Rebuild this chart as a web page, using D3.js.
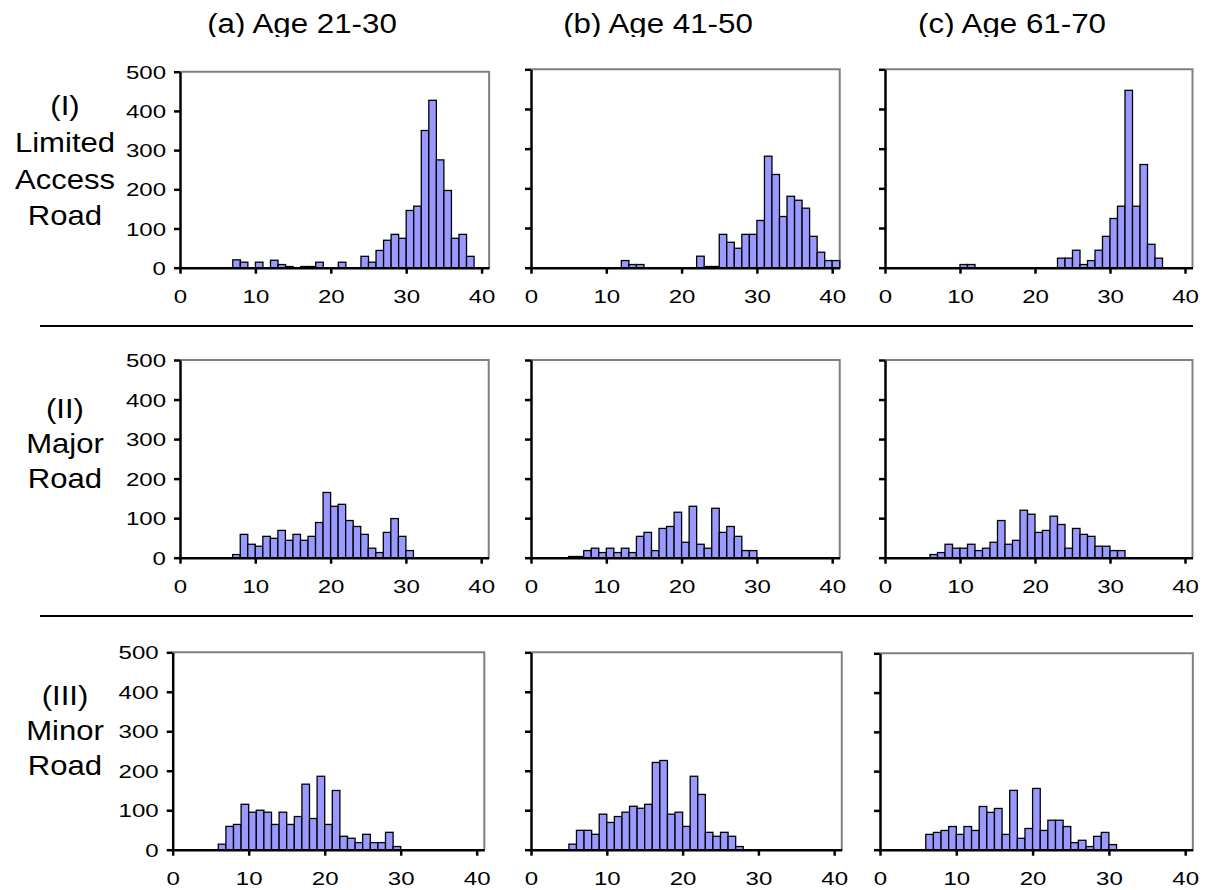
<!DOCTYPE html>
<html><head><meta charset="utf-8">
<script src="https://cdn.jsdelivr.net/npm/d3@7"></script>
<style>
body{margin:0;background:#fff}
svg{display:block}
text{font-family:"Liberation Sans",Arial,sans-serif;fill:#000}
</style>
</head><body>
<svg id="chart" width="1209" height="890"></svg>
<script>
// ---------- data ----------
const ageGroups = ["(a) Age 21-30", "(b) Age 41-50", "(c) Age 61-70"];
const roadTypes = [["(I)", "Limited", "Access", "Road"], ["(II)", "Major", "Road"], ["(III)", "Minor", "Road"]];
const xTicks = [0, 10, 20, 30, 40];
const yTicks = [0, 100, 200, 300, 400, 500];

// counts per 1-unit speed bin; *_start = first bin
const limited_21_30_start = 7;
const limited_21_30 = [20, 14, 0, 14, 0, 19, 8, 3, 0, 3, 3, 14, 0, 0, 14, 0, 0, 29, 14, 44, 70, 85, 75, 146, 157, 350, 427, 275, 197, 75, 85, 29];
const limited_41_50_start = 12;
const limited_41_50 = [18, 8, 8, 0, 0, 0, 0, 0, 0, 0, 29, 3, 3, 84, 64, 49, 84, 84, 119, 281, 235, 129, 180, 170, 150, 79, 39, 18, 18];
const limited_61_70_start = 10;
const limited_61_70 = [8, 8, 0, 0, 0, 0, 0, 0, 0, 0, 0, 0, 0, 24, 24, 44, 8, 18, 44, 79, 124, 155, 447, 155, 260, 59, 24];

const major_21_30_start = 7;
const major_21_30 = [8, 59, 34, 29, 54, 49, 69, 44, 59, 44, 54, 89, 165, 130, 135, 94, 79, 59, 24, 13, 64, 99, 54, 18];
const major_41_50_start = 5;
const major_41_50 = [3, 3, 18, 24, 13, 24, 13, 24, 13, 54, 64, 18, 74, 79, 115, 39, 130, 34, 24, 125, 64, 79, 54, 18, 18];
const major_61_70_start = 6;
const major_61_70 = [8, 13, 34, 24, 24, 34, 18, 24, 39, 94, 34, 44, 120, 110, 64, 69, 105, 84, 24, 74, 59, 54, 29, 29, 18, 18];

const minor_21_30_start = 6;
const minor_21_30 = [14, 59, 64, 115, 95, 100, 95, 64, 95, 64, 84, 166, 79, 186, 64, 150, 34, 29, 18, 39, 18, 18, 44, 8];
const minor_41_50_start = 5;
const minor_41_50 = [14, 49, 49, 39, 90, 69, 84, 95, 110, 105, 115, 221, 226, 90, 95, 59, 186, 140, 44, 34, 44, 34, 8];
const minor_61_70_start = 6;
const minor_61_70 = [39, 44, 49, 59, 39, 59, 49, 110, 95, 105, 39, 151, 29, 54, 156, 49, 75, 75, 59, 18, 24, 8, 34, 44, 13];

const series = [
  [limited_21_30_start, limited_21_30], [limited_41_50_start, limited_41_50], [limited_61_70_start, limited_61_70],
  [major_21_30_start, major_21_30], [major_41_50_start, major_41_50], [major_61_70_start, major_61_70],
  [minor_21_30_start, minor_21_30], [minor_41_50_start, minor_41_50], [minor_61_70_start, minor_61_70]
];

// ---------- layout ----------
const layout = [
  {x0: 180,   unit: 7.54, top: 71.7,  bottom: 267.7},
  {x0: 531,   unit: 7.53, top: 69.3,  bottom: 267.7},
  {x0: 885,   unit: 7.50, top: 69.3,  bottom: 267.7},
  {x0: 180,   unit: 7.53, top: 360,   bottom: 557.7},
  {x0: 531,   unit: 7.53, top: 360,   bottom: 557.7},
  {x0: 885,   unit: 7.50, top: 360,   bottom: 557.7},
  {x0: 172.7, unit: 7.60, top: 652.3, bottom: 849.7},
  {x0: 531,   unit: 7.58, top: 652.3, bottom: 849.7},
  {x0: 880,   unit: 7.63, top: 653.3, bottom: 849.7}
];
const titleX = [302, 658, 1012];
const rowLabelBaselines = [[115, 151.7, 189, 225], [418, 453, 488], [705, 740, 775]];
const separatorsY = [326, 616];
const X_MAX = 41;
const TICK_SX = 1.3, TITLE_SX = 1.16, ROW_SX = 1.13;

const svg = d3.select("#chart");

// titles (clipped at top edge region like the source)
svg.append("defs").append("clipPath").attr("id", "titleClip")
  .append("rect").attr("x", 0).attr("y", 0).attr("width", 1209).attr("height", 37);
const tg = svg.append("g").attr("clip-path", "url(#titleClip)");
ageGroups.forEach((t, i) => {
  tg.append("text").attr("transform", `translate(${titleX[i]},33.3) scale(${TITLE_SX},1)`)
    .attr("text-anchor", "middle").style("font-size", "27px").text(t);
});

// row labels
roadTypes.forEach((lines, r) => {
  lines.forEach((ln, k) => {
    svg.append("text").attr("transform", `translate(65,${rowLabelBaselines[r][k]}) scale(${ROW_SX},1)`)
      .attr("text-anchor", "middle").style("font-size", "27.5px").text(ln);
  });
});

// separators
separatorsY.forEach(yy => {
  svg.append("line").attr("x1", 40).attr("x2", 1193).attr("y1", yy).attr("y2", yy)
    .attr("stroke", "#000").attr("stroke-width", 2);
});

// panels
layout.forEach((L, i) => {
  const [start, counts] = series[i];
  const x = d3.scaleLinear().domain([0, X_MAX]).range([L.x0, L.x0 + X_MAX * L.unit]);
  const y = d3.scaleLinear().domain([0, 500]).range([L.bottom, L.top]);
  const g = svg.append("g");
  const bins = counts.map((c, j) => ({bin: start + j, count: c})).filter(d => d.count > 0);

  // gray top/right frame
  g.append("path").attr("d", `M${x(0)},${y(500)}H${x(X_MAX)}V${y(0)}`)
    .attr("fill", "none").attr("stroke", "#808080").attr("stroke-width", 2);

  g.append("g").selectAll("rect").data(bins).join("rect")
    .attr("x", d => x(d.bin)).attr("width", d => x(d.bin + 1) - x(d.bin))
    .attr("y", d => y(d.count)).attr("height", d => y(0) - y(d.count))
    .attr("fill", "#9999ff").attr("stroke", "#000").attr("stroke-width", 1.3);

  const showY = i % 3 === 0;
  const ya = d3.axisLeft(y).tickValues(yTicks).tickSize(6).tickSizeOuter(0)
    .tickFormat(showY ? d3.format("d") : () => "");
  const yg = g.append("g").attr("transform", `translate(${x(0)},0)`).call(ya);
  yg.select(".domain").attr("stroke", "#000").attr("stroke-width", 2.5);
  yg.selectAll(".tick line").attr("stroke", "#000").attr("stroke-width", 2.5);
  yg.selectAll(".tick text").attr("x", -14 / TICK_SX).attr("dy", "0.36em")
    .attr("transform", `scale(${TICK_SX},1)`).style("font-size", "18.5px")
    .style("font-family", '"Liberation Sans",Arial,sans-serif');

  const xa = d3.axisBottom(x).tickValues(xTicks).tickSize(6).tickSizeOuter(0).tickFormat(d3.format("d"));
  const xg = g.append("g").attr("transform", `translate(0,${y(0)})`).call(xa);
  xg.select(".domain").attr("stroke", "#000").attr("stroke-width", 2.5);
  xg.selectAll(".tick line").attr("stroke", "#000").attr("stroke-width", 2.5);
  xg.selectAll(".tick text").attr("y", 35.5).attr("dy", 0)
    .attr("transform", `scale(${TICK_SX},1)`).style("font-size", "18.5px")
    .style("font-family", '"Liberation Sans",Arial,sans-serif');
  yg.attr("font-family", null); xg.attr("font-family", null);
});
</script>
</body></html>
